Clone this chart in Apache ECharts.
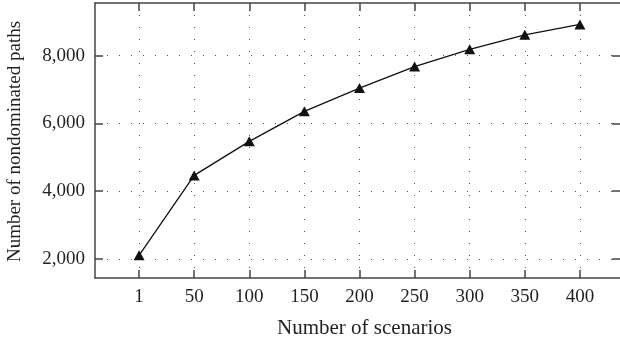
<!DOCTYPE html>
<html>
<head>
<meta charset="utf-8">
<script src="https://cdn.jsdelivr.net/npm/echarts@6/dist/echarts.min.js"></script>
<style>html,body{margin:0;padding:0;background:#fff}#c{width:620px;height:343px}</style>
</head>
<body>
<div id="c"></div>
<script>
var categories = ['1', '50', '100', '150', '200', '250', '300', '350', '400'];
var paths = [2110, 4465, 5470, 6356, 7040, 7676, 8183, 8610, 8919];
var yTicks = [2000, 4000, 6000, 8000];
var xName = 'Number of scenarios';
var yName = 'Number of nondominated paths';

var idx = categories.map(function (c, i) { return i; });
var seriesData = paths.map(function (v, i) { return [i, v]; });
function fmt(v) { return String(v).replace(/\B(?=(\d{3})+(?!\d))/g, ','); }

var font = 'Liberation Serif';
var axisCol = '#444';
var txtCol = '#231f20';
var gridLine = { show: true, lineStyle: { color: '#555', width: 1, type: [1, 11] } };

var chart = echarts.init(document.getElementById('c'), null, { renderer: 'canvas' });
chart.setOption({
  animation: false,
  grid: { left: 95, top: 3, right: -4, bottom: 65, containLabel: false, outerBoundsMode: 'none' },
  xAxis: [{
    type: 'value', position: 'bottom', min: -0.8, max: 8.8,
    name: xName, nameLocation: 'middle', nameGap: 40,
    nameTextStyle: { fontFamily: font, fontSize: 21, color: txtCol, padding: [0, 0, 0, 10] },
    axisLine: { show: true, onZero: false, lineStyle: { color: axisCol, width: 1.5 } },
    axisTick: { show: true, inside: true, length: 8, customValues: idx, lineStyle: { color: axisCol, width: 1.5 } },
    axisLabel: { customValues: idx, margin: 10, fontFamily: font, fontSize: 19, color: txtCol,
      formatter: function (v) { return categories[Math.round(v)]; } },
    splitLine: Object.assign({ customValues: idx }, gridLine)
  }, {
    type: 'value', position: 'top', min: -0.8, max: 8.8,
    axisLine: { show: true, onZero: false, lineStyle: { color: axisCol, width: 1.5 } },
    axisTick: { show: true, inside: true, length: 8, customValues: idx, lineStyle: { color: axisCol, width: 1.5 } },
    axisLabel: { show: false },
    splitLine: { show: false }
  }],
  yAxis: [{
    type: 'value', position: 'left', min: 1440, max: 9550,
    name: yName, nameLocation: 'middle', nameGap: 70,
    nameTextStyle: { fontFamily: font, fontSize: 19, color: txtCol, padding: [0, 2, 0, 0] },
    axisLine: { show: true, onZero: false, lineStyle: { color: axisCol, width: 1.5 } },
    axisTick: { show: true, inside: true, length: 8, customValues: yTicks, lineStyle: { color: axisCol, width: 1.5 } },
    axisLabel: { customValues: yTicks, margin: 10, fontFamily: font, fontSize: 19, color: txtCol, formatter: fmt },
    splitLine: Object.assign({ customValues: yTicks }, gridLine)
  }, {
    type: 'value', position: 'right', min: 1440, max: 9550,
    axisLine: { show: true, onZero: false, lineStyle: { color: axisCol, width: 1.5 } },
    axisTick: { show: true, inside: true, length: 12, customValues: yTicks, lineStyle: { color: axisCol, width: 1.5 } },
    axisLabel: { show: false },
    splitLine: { show: false }
  }],
  series: [{
    type: 'line', xAxisIndex: 0, yAxisIndex: 0,
    data: seriesData,
    symbol: 'triangle', symbolSize: [11, 10],
    itemStyle: { color: '#111' },
    lineStyle: { color: '#111', width: 1.3 }
  }]
});
</script>
</body>
</html>
